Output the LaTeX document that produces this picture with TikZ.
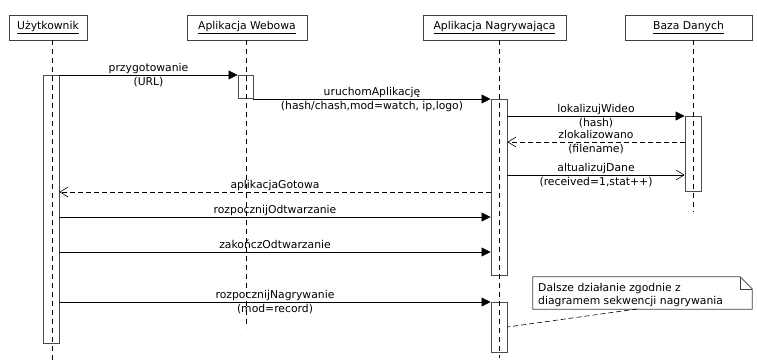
\documentclass[tikz,border=0pt]{standalone}
\usepackage{fontspec}
\setmainfont{DejaVu Sans}
\usetikzlibrary{arrows.meta,calc}
\begin{document}
\begin{tikzpicture}[x=1pt,y=-1pt,
  font=\fontsize{10.8}{13}\selectfont,
  head/.style={draw=black!75, line width=0.7pt, fill=white, minimum height=25pt, inner sep=0pt},
  life/.style={black, line width=0.6pt, dash pattern=on 5pt off 4pt},
  act/.style={draw=black!70, line width=0.9pt, fill=white, inner sep=0pt, minimum width=16pt},
  call/.style={line width=0.6pt, -{Triangle[length=9pt,width=9pt]}},
  async/.style={line width=0.6pt, -{Straight Barb[length=8pt,width=10pt]}},
  reply/.style={line width=0.6pt, dash pattern=on 5pt off 3pt, -{Straight Barb[length=8pt,width=10pt]}},
  lbl/.style={anchor=base, inner sep=0pt},
  notebox/.style={fill=white, inner sep=0pt}
]
\useasboundingbox (0,0) rectangle (757,360);

% headers
\node[head, minimum width=78pt] (hU) at (48,27.5) {\underline{Użytkownik}};
\node[head, minimum width=120pt] (hW) at (247,27.5) {\underline{Aplikacja Webowa}};
\node[head, minimum width=143pt] (hN) at (494.5,27.5) {\underline{Aplikacja Nagrywająca}};
\node[head, minimum width=127pt] (hB) at (688.5,27.5) {\underline{Baza Danych}};

% lifeline ends
\coordinate (uTop) at (52,40); \coordinate (uEnd) at (52,360);
\coordinate (wTop) at (246,40); \coordinate (wEnd) at (246,328);
\coordinate (nTop) at (499,40); \coordinate (nEnd) at (499,358);
\coordinate (bTop) at (693,40); \coordinate (bEnd) at (693,212);

% activation boxes (below lifelines)
\node[act, minimum height=268pt] (aU) at (51,209) {};
\node[act, minimum height=23pt, minimum width=15pt] (aW) at (245.5,86.5) {};
\node[act, minimum height=176pt] (aN1) at (499,187) {};
\node[act, minimum height=50pt] (aN2) at (499,327) {};
\node[act, minimum height=75pt] (aB) at (693,153.5) {};

% lifelines
\draw[life] (uTop) -- (uEnd);
\draw[life] (wTop) -- (wEnd);
\draw[life] (nTop) -- (nEnd);
\draw[life] (bTop) -- (bEnd);

% message end points
\coordinate (m1a) at (aU.east |- 0,75);   \coordinate (m1b) at (aW.west |- 0,75);
\coordinate (m2a) at (aW.east |- 0,99);   \coordinate (m2b) at (aN1.west |- 0,99);
\coordinate (m3a) at (aN1.east |- 0,116); \coordinate (m3b) at (aB.west |- 0,116);
\coordinate (m4a) at (aB.west |- 0,142);  \coordinate (m4b) at (aN1.east |- 0,142);
\coordinate (m5a) at (aN1.east |- 0,175); \coordinate (m5b) at (aB.west |- 0,175);
\coordinate (m6a) at (aN1.west |- 0,192); \coordinate (m6b) at (aU.east |- 0,192);
\coordinate (m7a) at (aU.east |- 0,217);  \coordinate (m7b) at (aN1.west |- 0,217);
\coordinate (m8a) at (aU.east |- 0,252);  \coordinate (m8b) at (aN1.west |- 0,252);
\coordinate (m9a) at (aU.east |- 0,302);  \coordinate (m9b) at (aN2.west |- 0,302);

% messages
\draw[call] (m1a) -- (m1b);
\node[lbl] at ($(m1a)!0.5!(m1b)+(0,-4)$) {przygotowanie};
\node[lbl] at ($(m1a)!0.5!(m1b)+(0,10.5)$) {(URL)};

\draw[call] (m2a) -- (m2b);
\node[lbl] at ($(m2a)!0.5!(m2b)+(0,-4)$) {uruchomAplikację};
\node[lbl] at ($(m2a)!0.5!(m2b)+(0,10.5)$) {(hash/chash,mod=watch, ip,logo)};

\draw[call] (m3a) -- (m3b);
\node[lbl] at ($(m3a)!0.5!(m3b)+(0,-4)$) {lokalizujWideo};
\node[lbl] at ($(m3a)!0.5!(m3b)+(0,10.5)$) {(hash)};

\draw[reply] (m4a) -- (m4b);
\node[lbl] at ($(m4a)!0.5!(m4b)+(0,-4)$) {zlokalizowano};
\node[lbl] at ($(m4a)!0.5!(m4b)+(0,10.5)$) {(filename)};

\draw[async] (m5a) -- (m5b);
\node[lbl] at ($(m5a)!0.5!(m5b)+(0,-4)$) {altualizujDane};
\node[lbl] at ($(m5a)!0.5!(m5b)+(0,10.5)$) {(received=1,stat++)};

\draw[reply] (m6a) -- (m6b);
\node[lbl] at ($(m6a)!0.5!(m6b)+(0,-4)$) {aplikacjaGotowa};

\draw[call] (m7a) -- (m7b);
\node[lbl] at ($(m7a)!0.5!(m7b)+(0,-4)$) {rozpocznijOdtwarzanie};

\draw[call] (m8a) -- (m8b);
\node[lbl] at ($(m8a)!0.5!(m8b)+(0,-4)$) {zakończOdtwarzanie};

\draw[call] (m9a) -- (m9b);
\node[lbl] at ($(m9a)!0.5!(m9b)+(0,-4)$) {rozpocznijNagrywanie};
\node[lbl] at ($(m9a)!0.5!(m9b)+(0,10.5)$) {(mod=record)};

% note
\node[notebox, minimum width=219pt, minimum height=32pt] (note) at (642.5,293) {};
\draw[black!75, line width=0.7pt] (note.south west) -- (note.north west) -- ([xshift=-12pt]note.north east)
  -- ([yshift=-12pt]note.north east) -- (note.south east) -- cycle;
\draw[black!75, line width=0.6pt] ([xshift=-12pt]note.north east) -- ([xshift=-12pt,yshift=-12pt]note.north east) -- ([yshift=-12pt]note.north east);
\node[anchor=base west, inner sep=0pt] at (538,291) {Dalsze działanie zgodnie z};
\node[anchor=base west, inner sep=0pt] at (538,304.5) {diagramem sekwencji nagrywania};
\coordinate (noteTail) at (637,309);
\coordinate (actTail) at (aN2.east |- 0,327);
\draw[line width=0.6pt, dash pattern=on 5pt off 3pt] (noteTail) -- (actTail);
\end{tikzpicture}
\end{document}
